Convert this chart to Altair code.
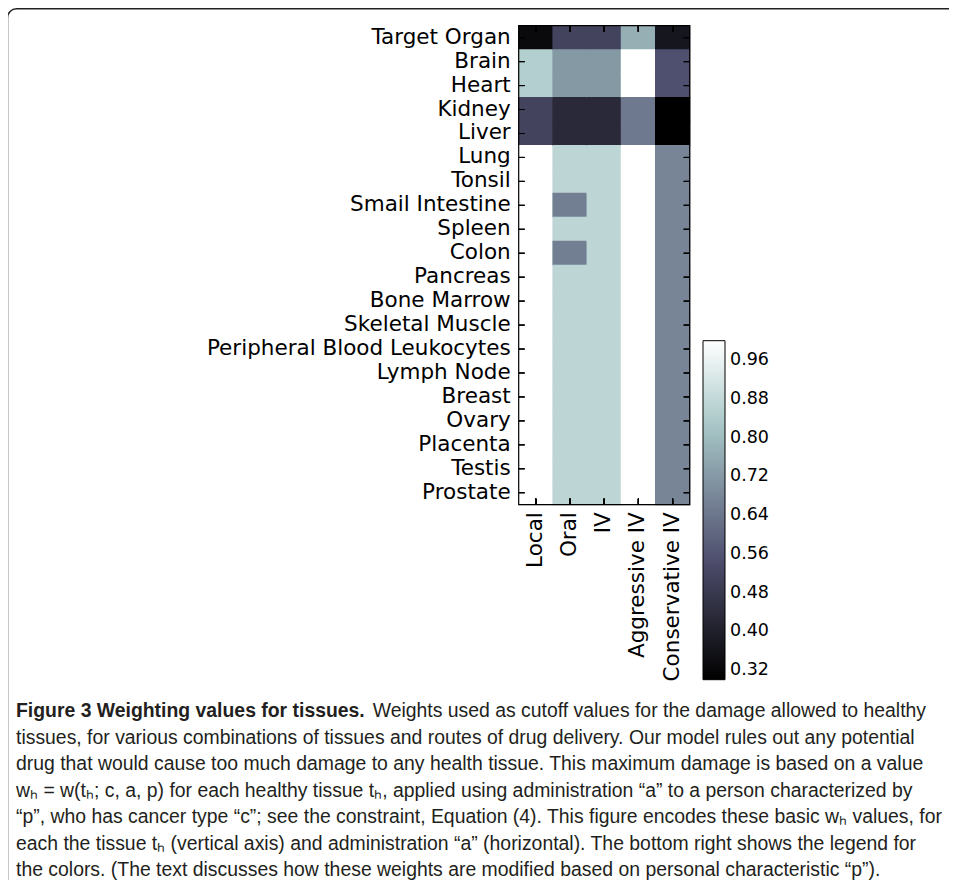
import altair as alt
import pandas as pd

tissues = ["Target Organ", "Brain", "Heart", "Kidney", "Liver", "Lung", "Tonsil",
           "Smail Intestine", "Spleen", "Colon", "Pancreas", "Bone Marrow",
           "Skeletal Muscle", "Peripheral Blood Leukocytes", "Lymph Node",
           "Breast", "Ovary", "Placenta", "Testis", "Prostate"]
methods = ["Local", "Oral", "IV", "Aggressive IV", "Conservative IV"]

local = [0.33, 0.85, 0.85, 0.51, 0.51, 1.0, 1.0, 1.0, 1.0, 1.0,
         1.0, 1.0, 1.0, 1.0, 1.0, 1.0, 1.0, 1.0, 1.0, 1.0]
oral = [0.51, 0.72, 0.72, 0.43, 0.43, 0.87, 0.87, 0.66, 0.87, 0.66,
        0.87, 0.87, 0.87, 0.87, 0.87, 0.87, 0.87, 0.87, 0.87, 0.87]
iv = [0.51, 0.72, 0.72, 0.43, 0.43, 0.87, 0.87, 0.87, 0.87, 0.87,
      0.87, 0.87, 0.87, 0.87, 0.87, 0.87, 0.87, 0.87, 0.87, 0.87]
aggressive = [0.77, 1.0, 1.0, 0.645, 0.645, 1.0, 1.0, 1.0, 1.0, 1.0,
              1.0, 1.0, 1.0, 1.0, 1.0, 1.0, 1.0, 1.0, 1.0, 1.0]
conservative = [0.37, 0.55, 0.55, 0.30, 0.30, 0.675, 0.675, 0.675, 0.675, 0.675,
                0.675, 0.675, 0.675, 0.675, 0.675, 0.675, 0.675, 0.675, 0.675, 0.675]

cbar_ticks = [0.32, 0.40, 0.48, 0.56, 0.64, 0.72, 0.80, 0.88, 0.96]

caption_bold = "Figure 3 Weighting values for tissues."
caption_first = "Weights used as cutoff values for the damage allowed to healthy"
caption_rest = [
    "tissues, for various combinations of tissues and routes of drug delivery. Our model rules out any potential",
    "drug that would cause too much damage to any health tissue. This maximum damage is based on a value",
    "wₕ = w(tₕ; c, a, p) for each healthy tissue tₕ, applied using administration \u201ca\u201d to a person characterized by",
    "\u201cp\u201d, who has cancer type \u201cc\u201d; see the constraint, Equation (4). This figure encodes these basic wₕ values, for",
    "each the tissue tₕ (vertical axis) and administration \u201ca\u201d (horizontal). The bottom right shows the legend for",
    "the colors. (The text discusses how these weights are modified based on personal characteristic \u201cp\u201d).",
]

rows = []
for m, vals in zip(methods, [local, oral, iv, aggressive, conservative]):
    for t, v in zip(tissues, vals):
        rows.append({"tissue": t, "method": m, "weight": v})
df = pd.DataFrame(rows)

W, H = 171, 479
FONT = "DejaVu Sans"
CAPFONT = "Liberation Sans, Arial, sans-serif"
CAPSIZE = 19.4

xscale = alt.Scale(paddingInner=0, paddingOuter=0)
yscale = alt.Scale(paddingInner=0, paddingOuter=0)

xaxis = alt.Axis(title=None, orient="bottom", labelAngle=270, labelAlign="right",
                 labelBaseline="middle", labelPadding=7, labelFont=FONT,
                 labelFontSize=21.5, labelColor="black", ticks=False,
                 domain=False, grid=False, labelLimit=1000)
yaxis = alt.Axis(title=None, orient="left", labelPadding=8.5, labelFont=FONT,
                 labelFontSize=21.5, labelColor="black", ticks=False, domain=False,
                 grid=False, labelLimit=1000)

bone = alt.Scale(
    domain=[0.3, 0.3 + 0.7 * 0.365079, 0.3 + 0.7 * 0.746032, 1.0],
    range=["#000000", "#515171", "#a6c6c6", "#ffffff"],
    interpolate="rgb",
)

heat = alt.Chart(df).mark_rect(
    width=alt.RelativeBandSize(1.03), height=alt.RelativeBandSize(1.04)
).encode(
    x=alt.X("method:N", sort=methods, scale=xscale, axis=xaxis),
    y=alt.Y("tissue:N", sort=tissues, scale=yscale, axis=yaxis),
    color=alt.Color("weight:Q", scale=bone,
                    legend=alt.Legend(type="gradient", title=None, orient="none",
                                      legendX=184.3, legendY=315,
                                      direction="vertical", gradientLength=339,
                                      gradientThickness=22, gradientStrokeColor="black",
                                      gradientStrokeWidth=1, values=cbar_ticks, format=".2f",
                                      labelFont=FONT, labelFontSize=17.5, labelColor="black",
                                      labelOffset=5, labelOverlap=False)),
)

tick_style = dict(color="black", thickness=1, size=6)
left_ticks = alt.Chart(df).mark_tick(orient="horizontal", **tick_style).encode(
    y=alt.Y("tissue:N", sort=tissues, axis=yaxis), x=alt.value(3))
right_ticks = alt.Chart(df).mark_tick(orient="horizontal", **tick_style).encode(
    y=alt.Y("tissue:N", sort=tissues, axis=yaxis), x=alt.value(W - 3))
top_ticks = alt.Chart(df).mark_tick(orient="vertical", **tick_style).encode(
    x=alt.X("method:N", sort=methods, axis=xaxis), y=alt.value(3))
bottom_ticks = alt.Chart(df).mark_tick(orient="vertical", **tick_style).encode(
    x=alt.X("method:N", sort=methods, axis=xaxis), y=alt.value(H - 3))

frame = alt.Chart(alt.Data(values=[{}])).mark_rect(
    fillOpacity=0, stroke="black", strokeWidth=1.2).encode(
    x=alt.value(0), x2=alt.value(W), y=alt.value(0), y2=alt.value(H))

one = alt.Data(values=[{}])
cap1 = alt.Chart(one).mark_text(text=caption_bold, font=CAPFONT, fontSize=CAPSIZE,
                                fontWeight="bold", align="left", baseline="alphabetic",
                                color="#231f20").encode(
    x=alt.value(-502.7), y=alt.value(691))
cap2 = alt.Chart(one).mark_text(text=caption_first, font=CAPFONT, fontSize=CAPSIZE,
                                align="left", baseline="alphabetic", color="#231f20").encode(
    x=alt.value(-146), y=alt.value(691))
cap3 = alt.Chart(one).mark_text(text=caption_rest, font=CAPFONT, fontSize=CAPSIZE,
                                lineHeight=26.5, align="left", baseline="alphabetic",
                                color="#231f20").encode(
    x=alt.value(-502.7), y=alt.value(718))

box = alt.Chart(one).mark_rect(fillOpacity=0, stroke="#222222", strokeWidth=1.5,
                               cornerRadiusTopLeft=9, cornerRadiusBottomLeft=9).encode(
    x=alt.value(-511.2), x2=alt.value(2000), y=alt.value(-16.9), y2=alt.value(1500))

chart = alt.layer(heat, left_ticks, right_ticks, top_ticks, bottom_ticks, frame,
                  cap1, cap2, cap3, box).properties(
    width=W, height=H,
    autosize=alt.AutoSizeParams(type="none"),
    padding={"left": 510.7, "top": 17.7, "right": 259.3, "bottom": 375.3},
).configure_view(stroke=None).configure(background="white")

chart.save("out.html", embed_options={"renderer": "svg", "actions": False})
